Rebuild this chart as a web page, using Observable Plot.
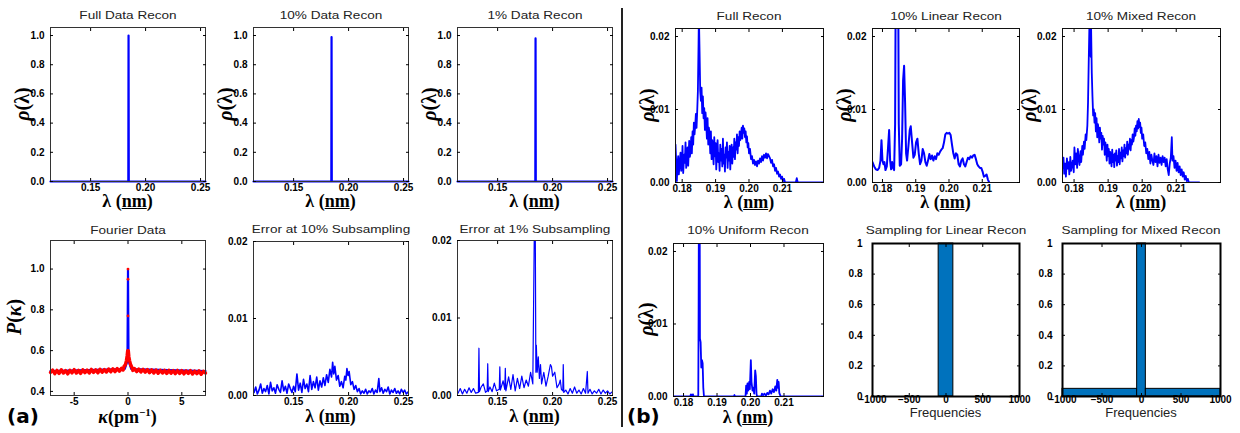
<!DOCTYPE html>
<html><head><meta charset="utf-8">
<script src="https://cdn.jsdelivr.net/npm/d3@7"></script>
<script src="https://cdn.jsdelivr.net/npm/@observablehq/plot@0.6"></script>
<style>
body{margin:0;background:#fff;}
#root{position:relative;width:1240px;height:433px;overflow:hidden;background:#fff;font-family:"Liberation Sans",Arial,sans-serif;}
#root svg{position:absolute;overflow:visible;}
.ttl{position:absolute;font-size:11.5px;color:#222;transform:translate(-50%,-50%) scaleX(1.18);white-space:nowrap;}
.xl{position:absolute;font-family:"Liberation Serif","DejaVu Serif",serif;font-weight:bold;font-size:18px;transform:translate(-50%,-50%);white-space:nowrap;line-height:1;}
.yl{position:absolute;font-family:"Liberation Serif","DejaVu Serif",serif;font-weight:bold;font-size:20px;transform:translate(-50%,-50%) rotate(-90deg);white-space:nowrap;line-height:1;}
.fq{position:absolute;font-size:13px;color:#222;transform:translate(-50%,-50%);white-space:nowrap;}
.tag{position:absolute;font-family:"DejaVu Sans",sans-serif;font-weight:bold;font-size:20px;transform:translate(0,-50%);}
#div{position:absolute;left:621px;top:8px;width:2px;height:419px;background:#222;}
</style></head>
<body><div id="root"><div id="div"></div></div>
<script>
// ---------- data ----------
const lamTicksA = [0.15, 0.20, 0.25];
const rhoTicksA = [0, 0.2, 0.4, 0.6, 0.8, 1.0];
const errTicks = [0, 0.01, 0.02];
const kappaTicks = [-5, 0, 5];
const pTicks = [0.4, 0.6, 0.8, 1.0];
const lamTicksB = [0.18, 0.19, 0.20, 0.21];
const freqTicks = [-1000, -500, 0, 500, 1000];
const sampTicks = [0, 0.2, 0.4, 0.6, 0.8, 1];

const fullDataRecon = [[0.1135,0],[0.1843,0],[0.1845,1.0],[0.1847,0],[0.2545,0]];
const tenDataRecon  = [[0.1135,0],[0.1843,0],[0.1845,0.99],[0.1847,0],[0.2545,0]];
const oneDataRecon  = [[0.1135,0],[0.1843,0],[0.1845,0.98],[0.1847,0],[0.2545,0]];

const fourierBlue = [[-7.2,0.5],[-0.3,0.51],[-0.05,0.55],[0,1.0],[0.05,0.55],[0.3,0.51],[7.2,0.5]];
const fourierRed = [[-7.2,0.493],[-7.0,0.505],[-6.8,0.487],[-6.6,0.503],[-6.4,0.488],[-6.2,0.506],[-6.0,0.49],[-5.8,0.502],[-5.6,0.486],[-5.4,0.504],[-5.2,0.491],[-5.0,0.507],[-4.8,0.49],[-4.6,0.503],[-4.4,0.488],[-4.2,0.506],[-4.0,0.492],[-3.8,0.505],[-3.6,0.49],[-3.4,0.508],[-3.2,0.493],[-3.0,0.506],[-2.8,0.491],[-2.6,0.509],[-2.4,0.494],[-2.2,0.507],[-2.0,0.495],[-1.8,0.51],[-1.6,0.496],[-1.4,0.511],[-1.2,0.497],[-1.0,0.512],[-0.8,0.499],[-0.6,0.514],[-0.45,0.505],[-0.35,0.525],[-0.25,0.53],[-0.15,0.55],[-0.08,0.575],[-0.03,0.6],[0,0.56],[0.03,0.6],[0.08,0.57],[0.15,0.55],[0.25,0.53],[0.35,0.52],[0.45,0.503],[0.6,0.512],[0.8,0.497],[1.0,0.51],[1.2,0.495],[1.4,0.508],[1.6,0.494],[1.8,0.507],[2.0,0.492],[2.2,0.506],[2.4,0.49],[2.6,0.505],[2.8,0.489],[3.0,0.504],[3.2,0.49],[3.4,0.503],[3.6,0.488],[3.8,0.504],[4.0,0.489],[4.2,0.502],[4.4,0.487],[4.6,0.503],[4.8,0.488],[5.0,0.502],[5.2,0.486],[5.4,0.501],[5.6,0.488],[5.8,0.502],[6.0,0.485],[6.2,0.5],[6.4,0.487],[6.6,0.501],[6.8,0.484],[7.0,0.499],[7.2,0.49]];
const fourierRedDots = [[0,1.0],[0,0.95],[0,0.77],[0,0.6],[0,0.58]];

const err10 = [[0.1140,0.0004],[0.1155,0.0011],[0.1170,0.0002],[0.1185,0.0007],[0.1200,0.0015],[0.1215,0.0003],[0.1230,0.0009],[0.1245,0.0005],[0.1260,0.0013],[0.1275,0.0002],[0.1290,0.0017],[0.1305,0.0006],[0.1320,0.0010],[0.1335,0.0003],[0.1350,0.0014],[0.1365,0.0008],[0.1380,0.0004],[0.1395,0.0019],[0.1410,0.0006],[0.1425,0.0012],[0.1440,0.0003],[0.1455,0.0015],[0.1470,0.0009],[0.1485,0.0004],[0.1500,0.0012],[0.1515,0.0005],[0.1530,0.0028],[0.1545,0.0007],[0.1560,0.0016],[0.1575,0.0004],[0.1590,0.0021],[0.1605,0.0009],[0.1620,0.0015],[0.1635,0.0005],[0.1650,0.0026],[0.1665,0.0008],[0.1680,0.0018],[0.1695,0.0010],[0.1710,0.0024],[0.1725,0.0007],[0.1740,0.0019],[0.1755,0.0011],[0.1770,0.0023],[0.1785,0.0013],[0.1800,0.0027],[0.1815,0.0017],[0.1830,0.0034],[0.1845,0.0024],[0.1855,0.0043],[0.1865,0.0028],[0.1875,0.0038],[0.1890,0.0020],[0.1905,0.0026],[0.1920,0.0012],[0.1935,0.0018],[0.1950,0.0010],[0.1965,0.0025],[0.1975,0.0020],[0.1985,0.0035],[0.1995,0.0026],[0.2005,0.0031],[0.2020,0.0014],[0.2035,0.0018],[0.2050,0.0008],[0.2065,0.0013],[0.2080,0.0005],[0.2095,0.0009],[0.2110,0.0002],[0.2125,0.0006],[0.2140,0.0003],[0.2155,0.0008],[0.2170,0.0002],[0.2185,0.0006],[0.2200,0.0004],[0.2215,0.0009],[0.2230,0.0002],[0.2245,0.0007],[0.2260,0.0004],[0.2275,0.0022],[0.2285,0.0005],[0.2300,0.0010],[0.2315,0.0003],[0.2330,0.0008],[0.2345,0.0005],[0.2360,0.0011],[0.2375,0.0002],[0.2390,0.0007],[0.2405,0.0004],[0.2420,0.0009],[0.2435,0.0003],[0.2450,0.0006],[0.2465,0.0002],[0.2480,0.0008],[0.2495,0.0004],[0.2510,0.0007],[0.2525,0.0002],[0.2545,0.0005]];

const err1 = [[0.114,0.0003],[0.116,0.0009],[0.118,0.0002],[0.120,0.0008],[0.122,0.0003],[0.124,0.0010],[0.126,0.0004],[0.128,0.0009],[0.130,0.0003],[0.1325,0.0004],[0.133,0.0061],[0.1335,0.0005],[0.135,0.0011],[0.137,0.0015],[0.139,0.0004],[0.1405,0.0006],[0.141,0.0041],[0.1415,0.0005],[0.143,0.0011],[0.145,0.0005],[0.147,0.0016],[0.149,0.0006],[0.1515,0.0008],[0.152,0.0037],[0.1525,0.0007],[0.155,0.0019],[0.1565,0.0008],[0.157,0.0035],[0.1575,0.0006],[0.160,0.0024],[0.162,0.0008],[0.164,0.0027],[0.166,0.0006],[0.168,0.0022],[0.170,0.0009],[0.172,0.0025],[0.174,0.0010],[0.176,0.0020],[0.178,0.0012],[0.180,0.0030],[0.182,0.0015],[0.1840,0.0300],[0.1848,0.0030],[0.1852,0.0065],[0.186,0.0030],[0.187,0.0050],[0.188,0.0022],[0.189,0.0040],[0.190,0.0015],[0.192,0.0030],[0.194,0.0012],[0.196,0.0025],[0.198,0.0040],[0.199,0.0037],[0.200,0.0025],[0.202,0.0030],[0.204,0.0010],[0.206,0.0015],[0.207,0.0020],[0.208,0.0008],[0.2093,0.0006],[0.2097,0.0040],[0.2102,0.0004],[0.212,0.0007],[0.214,0.0002],[0.216,0.0009],[0.218,0.0003],[0.220,0.0011],[0.222,0.0003],[0.224,0.0007],[0.226,0.0002],[0.228,0.0009],[0.230,0.0003],[0.2316,0.0031],[0.2322,0.0003],[0.234,0.0008],[0.236,0.0002],[0.238,0.0006],[0.240,0.0003],[0.242,0.0008],[0.244,0.0002],[0.246,0.0007],[0.248,0.0003],[0.250,0.0006],[0.252,0.0002],[0.2545,0.0005]];

const fullRecon = [[0.1780,0.0052],[0.1782,0.0030],[0.1784,0.0002],[0.1786,0.0025],[0.1788,0.0036],[0.1790,0.0011],[0.1793,0.0030],[0.1795,0.0041],[0.1797,0.0016],[0.1799,0.0022],[0.1801,0.0050],[0.1803,0.0013],[0.1806,0.0038],[0.1808,0.0027],[0.1810,0.0055],[0.1812,0.0020],[0.1814,0.0034],[0.1816,0.0048],[0.1818,0.0023],[0.1821,0.0057],[0.1823,0.0035],[0.1825,0.0042],[0.1827,0.0062],[0.1829,0.0040],[0.1831,0.0070],[0.1833,0.0052],[0.1835,0.0082],[0.1837,0.0066],[0.1839,0.0078],[0.1841,0.0094],[0.1843,0.0075],[0.1845,0.0098],[0.1847,0.0125],[0.1849,0.0190],[0.1850,0.0230],[0.1852,0.0180],[0.1854,0.0125],[0.1856,0.0112],[0.1858,0.0130],[0.1860,0.0095],[0.1862,0.0118],[0.1864,0.0088],[0.1866,0.0102],[0.1868,0.0072],[0.1870,0.0096],[0.1872,0.0080],[0.1874,0.0060],[0.1876,0.0088],[0.1878,0.0052],[0.1880,0.0075],[0.1882,0.0066],[0.1884,0.0040],[0.1886,0.0070],[0.1888,0.0032],[0.1890,0.0058],[0.1892,0.0047],[0.1894,0.0025],[0.1896,0.0062],[0.1898,0.0036],[0.1900,0.0054],[0.1902,0.0018],[0.1904,0.0044],[0.1906,0.0058],[0.1908,0.0028],[0.1910,0.0040],[0.1912,0.0016],[0.1914,0.0052],[0.1916,0.0030],[0.1918,0.0046],[0.1920,0.0022],[0.1922,0.0060],[0.1924,0.0026],[0.1926,0.0038],[0.1928,0.0015],[0.1930,0.0048],[0.1932,0.0034],[0.1934,0.0055],[0.1936,0.0020],[0.1938,0.0042],[0.1940,0.0030],[0.1942,0.0050],[0.1944,0.0018],[0.1946,0.0045],[0.1948,0.0052],[0.1950,0.0026],[0.1952,0.0048],[0.1954,0.0035],[0.1956,0.0060],[0.1958,0.0032],[0.1960,0.0055],[0.1962,0.0045],[0.1964,0.0066],[0.1966,0.0040],[0.1968,0.0062],[0.1970,0.0050],[0.1972,0.0070],[0.1974,0.0058],[0.1976,0.0066],[0.1978,0.0075],[0.1980,0.0060],[0.1982,0.0078],[0.1984,0.0068],[0.1986,0.0074],[0.1988,0.0062],[0.1990,0.0070],[0.1992,0.0055],[0.1994,0.0063],[0.1996,0.0048],[0.1998,0.0054],[0.2000,0.0040],[0.2003,0.0046],[0.2006,0.0032],[0.2009,0.0036],[0.2012,0.0026],[0.2015,0.0031],[0.2018,0.0024],[0.2021,0.0029],[0.2024,0.0022],[0.2027,0.0030],[0.2030,0.0026],[0.2033,0.0033],[0.2036,0.0028],[0.2039,0.0036],[0.2042,0.0030],[0.2045,0.0038],[0.2048,0.0034],[0.2051,0.0040],[0.2054,0.0033],[0.2057,0.0039],[0.2060,0.0036],[0.2063,0.0033],[0.2066,0.0027],[0.2069,0.0031],[0.2072,0.0022],[0.2075,0.0025],[0.2078,0.0016],[0.2081,0.0020],[0.2084,0.0012],[0.2087,0.0015],[0.2090,0.0008],[0.2093,0.0011],[0.2096,0.0005],[0.2099,0.0008],[0.2102,0.0002],[0.2105,0.0005],[0.2108,0.0000],[0.2140,0.0000],[0.2143,0.0006],[0.2146,0.0000],[0.2223,0.0000]];

const linearRecon = [[0.1770,0.0028],[0.1775,0.0022],[0.1780,0.0018],[0.1785,0.0017],[0.1790,0.0020],[0.1794,0.0030],[0.1797,0.0058],[0.1800,0.0030],[0.1803,0.0025],[0.1806,0.0028],[0.1809,0.0017],[0.1813,0.0022],[0.1817,0.0050],[0.1820,0.0072],[0.1823,0.0030],[0.1826,0.0018],[0.1829,0.0028],[0.1832,0.0020],[0.1835,0.0017],[0.1838,0.0080],[0.1840,0.0300],[0.1847,0.0300],[0.1849,0.0080],[0.1852,0.0023],[0.1856,0.0025],[0.1859,0.0060],[0.1862,0.0140],[0.1865,0.0160],[0.1868,0.0110],[0.1871,0.0040],[0.1874,0.0030],[0.1878,0.0050],[0.1882,0.0072],[0.1885,0.0077],[0.1889,0.0055],[0.1893,0.0034],[0.1897,0.0038],[0.1901,0.0055],[0.1905,0.0060],[0.1909,0.0040],[0.1913,0.0025],[0.1917,0.0030],[0.1921,0.0046],[0.1925,0.0040],[0.1929,0.0028],[0.1933,0.0023],[0.1937,0.0030],[0.1941,0.0039],[0.1945,0.0032],[0.1949,0.0037],[0.1953,0.0030],[0.1957,0.0036],[0.1961,0.0032],[0.1965,0.0040],[0.1969,0.0038],[0.1973,0.0042],[0.1977,0.0045],[0.1981,0.0047],[0.1985,0.0055],[0.1989,0.0066],[0.1993,0.0068],[0.1997,0.0067],[0.2001,0.0068],[0.2005,0.0065],[0.2009,0.0052],[0.2013,0.0040],[0.2017,0.0033],[0.2021,0.0040],[0.2025,0.0038],[0.2029,0.0025],[0.2033,0.0022],[0.2037,0.0030],[0.2041,0.0033],[0.2045,0.0025],[0.2049,0.0022],[0.2053,0.0028],[0.2057,0.0034],[0.2061,0.0032],[0.2065,0.0036],[0.2069,0.0034],[0.2073,0.0037],[0.2077,0.0038],[0.2081,0.0032],[0.2085,0.0025],[0.2089,0.0022],[0.2093,0.0020],[0.2097,0.0020],[0.2101,0.0015],[0.2105,0.0008],[0.2109,0.0009],[0.2113,0.0011],[0.2117,0.0004],[0.2121,0.0000]];

const mixedRecon = [[0.1766,0.0020],[0.1769,0.0034],[0.1771,0.0012],[0.1774,0.0026],[0.1776,0.0008],[0.1779,0.0033],[0.1781,0.0019],[0.1784,0.0028],[0.1786,0.0011],[0.1789,0.0035],[0.1791,0.0016],[0.1794,0.0024],[0.1796,0.0030],[0.1799,0.0014],[0.1801,0.0048],[0.1804,0.0025],[0.1806,0.0040],[0.1809,0.0020],[0.1811,0.0046],[0.1814,0.0032],[0.1816,0.0024],[0.1819,0.0043],[0.1821,0.0028],[0.1824,0.0050],[0.1826,0.0038],[0.1829,0.0056],[0.1831,0.0046],[0.1834,0.0066],[0.1836,0.0058],[0.1839,0.0078],[0.1841,0.0110],[0.1843,0.0165],[0.1845,0.0215],[0.1847,0.0180],[0.1849,0.0172],[0.1850,0.0212],[0.1852,0.0150],[0.1854,0.0118],[0.1856,0.0092],[0.1858,0.0100],[0.1860,0.0082],[0.1862,0.0095],[0.1864,0.0070],[0.1866,0.0088],[0.1868,0.0062],[0.1870,0.0080],[0.1872,0.0072],[0.1874,0.0055],[0.1876,0.0075],[0.1878,0.0060],[0.1880,0.0068],[0.1882,0.0045],[0.1884,0.0064],[0.1886,0.0052],[0.1888,0.0060],[0.1890,0.0038],[0.1892,0.0055],[0.1894,0.0044],[0.1896,0.0030],[0.1898,0.0052],[0.1900,0.0036],[0.1902,0.0046],[0.1904,0.0026],[0.1906,0.0042],[0.1908,0.0034],[0.1910,0.0022],[0.1912,0.0045],[0.1914,0.0028],[0.1916,0.0038],[0.1918,0.0021],[0.1920,0.0040],[0.1922,0.0030],[0.1924,0.0044],[0.1926,0.0023],[0.1928,0.0036],[0.1930,0.0028],[0.1932,0.0046],[0.1934,0.0025],[0.1936,0.0041],[0.1938,0.0033],[0.1940,0.0048],[0.1942,0.0029],[0.1944,0.0044],[0.1946,0.0036],[0.1948,0.0052],[0.1950,0.0034],[0.1952,0.0047],[0.1954,0.0040],[0.1956,0.0056],[0.1958,0.0038],[0.1960,0.0052],[0.1962,0.0046],[0.1964,0.0060],[0.1966,0.0044],[0.1968,0.0058],[0.1970,0.0052],[0.1972,0.0066],[0.1974,0.0056],[0.1976,0.0062],[0.1978,0.0074],[0.1980,0.0064],[0.1982,0.0078],[0.1984,0.0070],[0.1986,0.0084],[0.1988,0.0074],[0.1990,0.0087],[0.1992,0.0076],[0.1994,0.0082],[0.1996,0.0068],[0.1998,0.0075],[0.2000,0.0060],[0.2003,0.0066],[0.2006,0.0050],[0.2009,0.0055],[0.2012,0.0040],[0.2015,0.0046],[0.2018,0.0032],[0.2021,0.0042],[0.2024,0.0026],[0.2027,0.0038],[0.2030,0.0030],[0.2033,0.0024],[0.2036,0.0040],[0.2039,0.0028],[0.2042,0.0036],[0.2045,0.0022],[0.2048,0.0038],[0.2051,0.0027],[0.2054,0.0034],[0.2057,0.0024],[0.2060,0.0036],[0.2063,0.0028],[0.2066,0.0034],[0.2069,0.0022],[0.2072,0.0032],[0.2075,0.0018],[0.2078,0.0010],[0.2081,0.0026],[0.2084,0.0034],[0.2087,0.0062],[0.2089,0.0030],[0.2092,0.0036],[0.2095,0.0020],[0.2098,0.0030],[0.2101,0.0016],[0.2104,0.0027],[0.2107,0.0014],[0.2110,0.0022],[0.2113,0.0010],[0.2116,0.0018],[0.2119,0.0008],[0.2122,0.0014],[0.2125,0.0004],[0.2128,0.0009],[0.2131,0.0002],[0.2134,0.0005],[0.2137,0.0000],[0.2168,0.0000]];

const uniformRecon = [[0.1770,0],[0.1820,0],[0.1822,0.0003],[0.1824,0],[0.1828,0.0003],[0.1830,0],[0.1844,0],[0.1845,0.0120],[0.1846,0.0300],[0.1848,0.0300],[0.1849,0.0080],[0.1851,0.0075],[0.1853,0.0040],[0.1855,0.0050],[0.1857,0.0046],[0.1859,0.0012],[0.1861,0],[0.1950,0],[0.1952,0.0002],[0.1954,0],[0.1985,0],[0.1987,0.0015],[0.1989,0.0004],[0.1991,0.0018],[0.1993,0.0008],[0.1996,0.0020],[0.1998,0.0010],[0.2001,0.0050],[0.2003,0.0020],[0.2006,0.0008],[0.2009,0.0012],[0.2011,0.0004],[0.2014,0.0036],[0.2016,0.0028],[0.2018,0.0003],[0.2020,0],[0.2032,0],[0.2034,0.0004],[0.2038,0.0002],[0.2042,0.0004],[0.2046,0.0001],[0.2050,0.0005],[0.2054,0.0003],[0.2058,0.0008],[0.2062,0.0004],[0.2066,0.0010],[0.2070,0.0006],[0.2074,0.0014],[0.2077,0.0008],[0.2080,0.0023],[0.2082,0.0012],[0.2084,0.0020],[0.2086,0.0005],[0.2090,0],[0.2218,0]];

const linearSampling = [{x1:-100, x2:100, y1:0, y2:1}];
const mixedSampling = [{x1:-1000, x2:-55, y1:0, y2:0.05},{x1:-55, x2:55, y1:0, y2:1},{x1:55, x2:1000, y1:0, y2:0.05}];

// ---------- drawing ----------
const root = document.getElementById("root");
const ML = 45, MR = 8, MT = 8, MB = 26;
const BLUE = "#0000ff";
const f1 = d3.format(".1f"), f2 = d3.format(".2f");

function addPlot({frame, xdomain, ydomain, xticks, yticks, xfmt, yfmt, marks, frameStroke = "#333", frameWidth = 1, xpad = 5, ypad = 9}) {
  const [l, t, r, b] = frame;
  const svg = Plot.plot({
    width: r - l + ML + MR, height: b - t + MT + MB,
    marginLeft: ML, marginRight: MR, marginTop: MT, marginBottom: MB,
    x: {domain: xdomain}, y: {domain: ydomain},
    style: {fontFamily: "'Liberation Sans', Arial, sans-serif", fontSize: "10px", fontWeight: "bold", color: "#000", background: "transparent", overflow: "visible"},
    marks: [
      ...marks,
      Plot.frame({stroke: frameStroke, strokeWidth: frameWidth}),
      Plot.axisX({ticks: xticks, anchor: "bottom", tickSize: -3, tickPadding: xpad, tickFormat: xfmt}),
      Plot.axisX({ticks: xticks, anchor: "top", tickSize: -3, tickFormat: () => ""}),
      Plot.axisY({ticks: yticks, anchor: "left", tickSize: -3, tickPadding: ypad, tickFormat: yfmt}),
      Plot.axisY({ticks: yticks, anchor: "right", tickSize: -3, tickFormat: () => ""})
    ]
  });
  svg.style.left = (l - ML) + "px";
  svg.style.top = (t - MT) + "px";
  root.appendChild(svg);
}
function label(cls, html, cx, cy) {
  const d = document.createElement("div");
  d.className = cls; d.innerHTML = html;
  d.style.left = cx + "px"; d.style.top = cy + "px";
  root.appendChild(d);
}
const line = (data, opts = {}) => Plot.line(data, {x: d => d[0], y: d => d[1], stroke: BLUE, strokeWidth: 2, ...opts});
const RHO = "<i>ρ</i>(λ)";
const LAM = "λ (<u>nm</u>)";

// Left group, top row
[[fullDataRecon, [50,27,205,181], "Full Data Recon"],
 [tenDataRecon, [253,27,408,181], "10% Data Recon"],
 [oneDataRecon, [457,27,612,181], "1% Data Recon"]].forEach(([data, fr, title]) => {
  addPlot({frame: fr, xdomain: [0.1135, 0.2545], ydomain: [0, 1.055], xticks: lamTicksA, yticks: rhoTicksA, xfmt: f2, yfmt: f1,
    marks: [line(data, {strokeWidth: 2.2})]});
  label("ttl", title, (fr[0] + fr[2]) / 2, 15);
  label("xl", LAM, (fr[0] + fr[2]) / 2, 201);
  label("yl", RHO, fr[0] - 28, (fr[1] + fr[3]) / 2);
});

// Fourier Data
addPlot({frame: [50,240,205,395], xdomain: [-7.2, 7.2], ydomain: [0.38, 1.14], xticks: kappaTicks, yticks: pTicks,
  xfmt: d => d < 0 ? "-" + (-d) : String(d), yfmt: f1,
  marks: [
    line(fourierBlue, {strokeWidth: 2.2}),
    line(fourierRed, {stroke: "#ff0000", strokeWidth: 3.4}),
    Plot.dot(fourierRedDots, {x: d => d[0], y: d => d[1], r: 1.4, fill: "#ff0000"})
  ]});
label("ttl", "Fourier Data", 127.5, 230);
label("xl", "<i>κ</i>(pm<sup style='font-size:11px'>−1</sup>)", 127.5, 416);
label("yl", "<i>P</i>(<i>κ</i>)", 14, 317);

// Error panels
addPlot({frame: [253,241,408,395], xdomain: [0.1135, 0.2545], ydomain: [0, 0.02], xticks: lamTicksA, yticks: errTicks, xfmt: f2, yfmt: f2,
  marks: [line(err10, {strokeWidth: 1.6, clip: true})]});
label("ttl", "Error at 10% Subsampling", 330.5, 229);
label("xl", LAM, 330.5, 416);

addPlot({frame: [457,240,612,395], xdomain: [0.1135, 0.2545], ydomain: [0, 0.02], xticks: lamTicksA, yticks: errTicks, xfmt: f2, yfmt: f2,
  marks: [line(err1, {strokeWidth: 1.2, clip: true})]});
label("ttl", "Error at 1% Subsampling", 534.5, 229);
label("xl", LAM, 534.5, 416);

// Right group
[[fullRecon, [675,28,823,182], [0.178, 0.2223], "Full Recon", 1.8],
 [linearRecon, [872,28,1019,182], [0.177, 0.2212], "10% Linear Recon", 2],
 [mixedRecon, [1062,28,1220,182], [0.1766, 0.223], "10% Mixed Recon", 1.8]].forEach(([data, fr, xd, title, sw], i) => {
  addPlot({frame: fr, xdomain: xd, ydomain: [0, 0.0211], xticks: lamTicksB, yticks: errTicks, xfmt: f2, yfmt: f2, frameStroke: "#111",
    marks: [line(data, {strokeWidth: sw, clip: true})]});
  label("ttl", title, (fr[0] + fr[2]) / 2, 16);
  label("xl", LAM, (fr[0] + fr[2]) / 2, 202);
  label("yl", RHO, fr[0] - (i === 2 ? 33 : 28), (fr[1] + fr[3]) / 2);
});

addPlot({frame: [673,243,823,396], xdomain: [0.177, 0.2218], ydomain: [0, 0.0211], xticks: lamTicksB, yticks: errTicks, xfmt: f2, yfmt: f2, frameStroke: "#111",
  marks: [line(uniformRecon, {strokeWidth: 1.8, clip: true})]});
label("ttl", "10% Uniform Recon", 748, 230);
label("xl", LAM, 748, 417);
label("yl", RHO, 646, 319);

// Sampling panels
const sfmtY = d => (d === 0 || d === 1) ? String(d) : d.toFixed(1);
const sfmtX = d => d < 0 ? "−" + (-d) : String(d);
[[linearSampling, [872,243,1019,396], "Sampling for Linear Recon"],
 [mixedSampling, [1062,243,1220,396], "Sampling for Mixed Recon"]].forEach(([data, fr, title]) => {
  addPlot({frame: fr, xdomain: [-1000, 1000], ydomain: [0, 1], xticks: freqTicks, yticks: sampTicks, xfmt: sfmtX, yfmt: sfmtY,
    frameStroke: "#000", frameWidth: 2, xpad: 2, ypad: 13,
    marks: [Plot.rect(data, {x1: "x1", x2: "x2", y1: "y1", y2: "y2", fill: "#0072bd", stroke: "#000", strokeWidth: 1})]});
  label("ttl", title, (fr[0] + fr[2]) / 2, 230);
  label("fq", "Frequencies", (fr[0] + fr[2]) / 2, 412);
});

label("tag", "(a)", 7, 416);
label("tag", "(b)", 627, 416);
</script>
</body></html>
